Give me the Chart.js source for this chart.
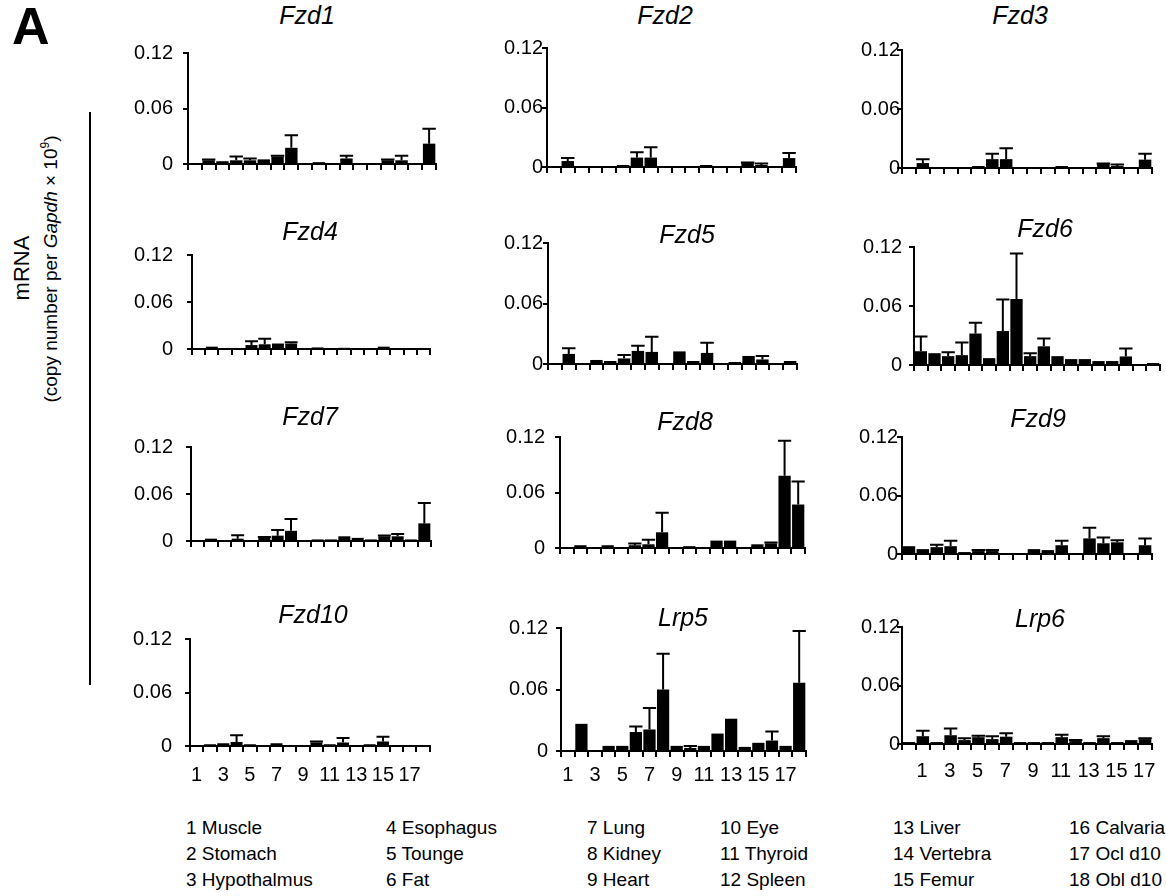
<!DOCTYPE html>
<html><head><meta charset="utf-8">
<script src="https://cdn.jsdelivr.net/npm/chart.js@4.4.0/dist/chart.umd.min.js"></script>
<style>
html,body{margin:0;padding:0;background:#fff;}
body{width:1166px;height:896px;position:relative;overflow:hidden;font-family:"Liberation Sans",Arial,sans-serif;color:#000;}
.abs{position:absolute;white-space:nowrap;}
.title{font-style:italic;font-size:25px;line-height:1;transform:translate(-50%,-50%);}
.leg{font-size:19px;line-height:1;transform:translateY(-50%);}
</style></head><body>
<script>
// ---------- DATA ----------
const categories = ['1','2','3','4','5','6','7','8','9','10','11','12','13','14','15','16','17','18'];
const tickLabels = ['1','','3','','5','','7','','9','','11','','13','','15','','17',''];
const yTickLabels = ['0','0.06','0.12'];
const tissues = ['Muscle','Stomach','Hypothalmus','Esophagus','Tounge','Fat','Lung','Kidney','Heart','Eye','Thyroid','Spleen','Liver','Vertebra','Femur','Calvaria','Ocl d10','Obl d10'];
const genes = ['Fzd1','Fzd2','Fzd3','Fzd4','Fzd5','Fzd6','Fzd7','Fzd8','Fzd9','Fzd10','Lrp5','Lrp6'];

const fzd1Mean  = [0.001,0.004,0.003,0.004,0.004,0.005,0.008,0.0175,0.001,0.002,0.001,0.006,0.001,0.001,0.004,0.004,0.001,0.022];
const fzd1Sem   = [0,0.001,0,0.004,0.002,0,0.001,0.0135,0,0,0,0.003,0,0,0.001,0.005,0,0.016];
const fzd2Mean  = [0.001,0.006,0.001,0.001,0.001,0.002,0.0095,0.0095,0.001,0.001,0.001,0.002,0.001,0.001,0.004,0.002,0.001,0.009];
const fzd2Sem   = [0,0.003,0,0,0,0,0.0055,0.0105,0,0,0,0,0,0,0.0005,0.0015,0,0.005];
const fzd3Mean  = [0.001,0.005,0.001,0.001,0.001,0.002,0.009,0.009,0.001,0.001,0.001,0.002,0.001,0.001,0.004,0.002,0.001,0.0085];
const fzd3Sem   = [0,0.004,0,0,0,0,0.0055,0.011,0,0,0,0,0,0,0.0005,0.0015,0,0.006];
const fzd4Mean  = [0.001,0.003,0.001,0.001,0.005,0.006,0.007,0.007,0.001,0.002,0.001,0.0015,0.001,0.001,0.003,0.001,0.001,0.001];
const fzd4Sem   = [0,0,0,0,0.005,0.007,0,0.0015,0,0,0,0,0,0,0,0,0,0];
const fzd5Mean  = [0.001,0.010,0.001,0.004,0.003,0.0055,0.013,0.012,0.001,0.0125,0.003,0.011,0.001,0.002,0.008,0.0045,0.001,0.003];
const fzd5Sem   = [0,0.0055,0,0,0,0.0035,0.005,0.015,0,0,0,0.010,0,0,0,0.0035,0,0];
const fzd6Mean  = [0.014,0.012,0.009,0.010,0.032,0.007,0.0345,0.067,0.009,0.019,0.009,0.006,0.006,0.004,0.004,0.0087,0.001,0.002];
const fzd6Sem   = [0.015,0,0.004,0.013,0.011,0,0.032,0.0465,0.003,0.008,0,0,0,0,0,0.008,0,0];
const fzd7Mean  = [0.001,0.003,0.001,0.003,0.001,0.004,0.0068,0.013,0.001,0.002,0.002,0.006,0.004,0.002,0.006,0.006,0.002,0.0225];
const fzd7Sem   = [0,0,0,0.0045,0,0.001,0.0072,0.015,0,0,0,0,0,0,0.001,0.003,0,0.026];
const fzd8Mean  = [0.001,0.003,0.001,0.003,0.001,0.003,0.004,0.017,0.001,0.002,0.001,0.008,0.008,0.001,0.004,0.005,0.078,0.047];
const fzd8Sem   = [0,0,0,0,0,0.002,0.005,0.021,0,0,0,0,0,0,0,0.001,0.038,0.025];
const fzd9Mean  = [0.008,0.005,0.007,0.008,0.002,0.003,0.003,0.001,0.001,0.005,0.004,0.009,0.001,0.016,0.011,0.012,0.001,0.009];
const fzd9Sem   = [0,0,0.0025,0.0055,0,0.001,0.001,0,0,0,0,0.0045,0,0.011,0.006,0.002,0,0.007];
const fzd10Mean = [0.001,0.002,0.003,0.0045,0.002,0.001,0.003,0.001,0.001,0.004,0.002,0.004,0.001,0.002,0.005,0.001,0.001,0.001];
const fzd10Sem  = [0,0,0,0.0075,0,0,0,0,0,0.001,0,0.005,0,0,0.0055,0,0,0];
const lrp5Mean  = [0.001,0.0265,0.001,0.005,0.005,0.0185,0.021,0.060,0.005,0.003,0.005,0.017,0.0315,0.004,0.008,0.0102,0.005,0.0665];
const lrp5Sem   = [0,0,0,0,0,0.0055,0.021,0.035,0,0.002,0,0,0,0,0,0.0088,0,0.0505];
const lrp6Mean  = [0.002,0.008,0.002,0.009,0.004,0.007,0.005,0.0075,0.002,0.002,0.002,0.007,0.003,0.002,0.006,0.002,0.004,0.005];
const lrp6Sem   = [0,0.0057,0,0.007,0.002,0.0015,0.003,0.0035,0,0,0,0.0026,0.001,0,0.002,0,0,0.001];

const means = [fzd1Mean,fzd2Mean,fzd3Mean,fzd4Mean,fzd5Mean,fzd6Mean,fzd7Mean,fzd8Mean,fzd9Mean,fzd10Mean,lrp5Mean,lrp6Mean];
const sems  = [fzd1Sem,fzd2Sem,fzd3Sem,fzd4Sem,fzd5Sem,fzd6Sem,fzd7Sem,fzd8Sem,fzd9Sem,fzd10Sem,lrp5Sem,lrp6Sem];

// ---------- LAYOUT (plot-area placement of each panel) ----------
const layout = [
 {l:188,t:45,b:174,r:436,gap:15,tx:307,ty:15},
 {l:547,t:48,b:167,r:796,gap:4,tx:665,ty:15},
 {l:902,t:50,b:168,r:1152,gap:2,tx:1020,ty:15},
 {l:192,t:243,b:363,r:430,gap:19,tx:310,ty:231},
 {l:548,t:243,b:364,r:797,gap:5,tx:687,ty:234},
 {l:914,t:242,b:372,r:1160,gap:12,tx:1045,ty:228},
 {l:191,t:436,b:554,r:431,gap:18,tx:310,ty:416},
 {l:560,t:429,b:558,r:805,gap:15,tx:685,ty:421},
 {l:902,t:437,b:554,r:1152,gap:4,tx:1038,ty:418},
 {l:190,t:628,b:746,r:430,gap:18,tx:313,ty:614,lab:true,lp:11,lo:0},
 {l:561,t:622,b:751,r:806,gap:13,tx:683,ty:617,lab:true,lp:6,lo:0},
 {l:902,t:627,b:744,r:1152,gap:2,tx:1040,ty:618,lab:true,lp:9,lo:13}
];
const legendX = [186,386,587,720,893,1069];
const legendY = [827,853,879];

Chart.defaults.font.family = '"Liberation Sans", Arial, sans-serif';
Chart.defaults.color = '#000';

const errorBars = {
  id:'errorBars',
  afterDatasetsDraw(chart){
    const ctx = chart.ctx, y = chart.scales.y;
    const ds = chart.data.datasets[0];
    const meta = chart.getDatasetMeta(0);
    ctx.save();
    ctx.strokeStyle = '#000';
    ctx.lineWidth = 2;
    meta.data.forEach((bar,i)=>{
      const e = ds.errors[i];
      if(!e) return;
      const v = ds.data[i];
      const yb = y.getPixelForValue(v), yt = y.getPixelForValue(v+e);
      const half = bar.width/2 + 0.5;
      ctx.beginPath();
      ctx.moveTo(bar.x, yb); ctx.lineTo(bar.x, yt);
      ctx.moveTo(bar.x-half, yt); ctx.lineTo(bar.x+half, yt);
      ctx.stroke();
    });
    ctx.restore();
  }
};

const YW = 70, PT = 14, PR = 4;
function panel(i){
  const L = layout[i];
  const xh = L.lab ? 42 : 12;
  const w = (L.r-L.l)+YW+PR, h = (L.b-L.t)+PT+xh;
  const c = document.createElement('canvas');
  c.width = w; c.height = h;
  c.style.cssText = `position:absolute;left:${L.l-YW}px;top:${L.t-PT}px;width:${w}px;height:${h}px`;
  document.body.appendChild(c);
  new Chart(c,{
    type:'bar',
    data:{labels:categories,datasets:[{data:means[i],errors:sems[i],backgroundColor:'#000',borderWidth:0,barPercentage:0.9,categoryPercentage:1}]},
    options:{
      responsive:false,animation:false,events:[],
      layout:{padding:{top:PT,right:PR,left:0,bottom:0}},
      plugins:{legend:{display:false},tooltip:{enabled:false},title:{display:false}},
      scales:{
        x:{type:'category',offset:true,
          grid:{offset:true,drawOnChartArea:false,drawTicks:true,tickLength:6,color:'#000',lineWidth:2},
          border:{display:true,color:'#000',width:2},
          ticks:{display:!!L.lab,autoSkip:false,maxRotation:0,minRotation:0,padding:L.lp||0,labelOffset:L.lo||0,color:'#000',font:{size:20},
                 callback:(v,idx)=>tickLabels[idx]},
          afterFit:s=>{s.height=xh;}},
        y:{min:0,max:0.12,
          grid:{drawOnChartArea:false,tickLength:5,color:'#000',lineWidth:2},
          border:{display:true,color:'#000',width:2},
          ticks:{stepSize:0.06,padding:L.gap-5,color:'#000',font:{size:20},
                 callback:v=>yTickLabels[Math.round(v/0.06)]},
          afterFit:s=>{s.width=YW;}}
      }
    },
    plugins:[errorBars]
  });
  const t = document.createElement('div');
  t.className='abs title';
  t.style.left=L.tx+'px'; t.style.top=L.ty+'px';
  t.textContent = genes[i];
  document.body.appendChild(t);
}
for(let i=0;i<12;i++) panel(i);

// legend of tissues
tissues.forEach((name,i)=>{
  const col = Math.floor(i/3), row = i%3;
  const d = document.createElement('div');
  d.className='abs leg';
  d.style.left = legendX[col]+'px'; d.style.top = legendY[row]+'px';
  d.textContent = (i+1)+' '+name;
  document.body.appendChild(d);
});
</script>
<div class="abs" style="left:12px;top:0px;font-size:52px;font-weight:bold;line-height:1;">A</div>
<div class="abs" style="left:22px;top:268px;font-size:22px;line-height:1;transform:translate(-50%,-50%) rotate(-90deg);">mRNA</div>
<div class="abs" style="left:50px;top:269px;font-size:19px;line-height:1;transform:translate(-50%,-50%) rotate(-90deg);">(copy number per <i>Gapdh</i> × 10<sup style="font-size:12px;vertical-align:8px;line-height:0">9</sup>)</div>
<div class="abs" style="left:89px;top:112px;width:1.5px;height:573px;background:#000;"></div>
</body></html>
